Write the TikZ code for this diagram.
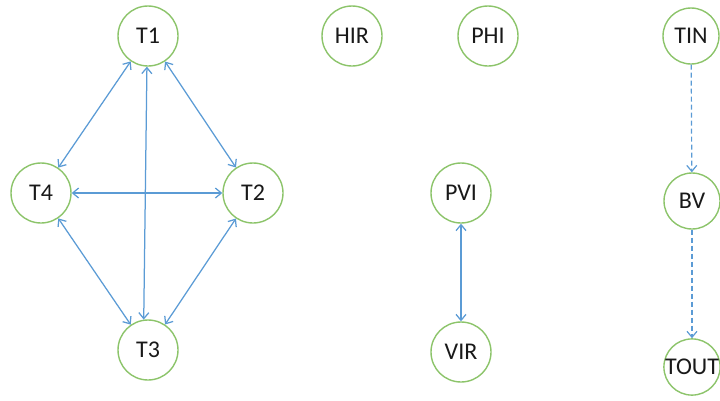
\documentclass[tikz,border=0pt]{standalone}
\usepackage{fontspec}
\setmainfont{Carlito}
\usetikzlibrary{arrows.meta}
\definecolor{ringgreen}{RGB}{140,196,106}
\definecolor{linkblue}{RGB}{91,155,213}
\tikzset{
  state/.style={circle, draw=ringgreen, line width=1.4pt, fill=white,
    minimum size=60pt, inner sep=0pt, font=\fontsize{24}{26}\selectfont, text=black!90},
  tip/.style={Straight Barb[length=6pt,width=10pt]},
  link/.style={draw=linkblue, line width=1.25pt, {Straight Barb[length=6pt,width=10pt]}-{Straight Barb[length=6pt,width=10pt]}},
  flow/.style={draw=linkblue, line width=1.2pt, dashed, dash pattern=on 5pt off 3pt,
    -{Straight Barb[length=6pt,width=10pt]}}
}
\begin{document}
\begin{tikzpicture}[x=1pt,y=-1pt]
\useasboundingbox (0,0) rectangle (720,400);
% cluster of four mutually linked states
\node[state] (T1) at (148,36) {T1};
\node[state] (T4) at (41,193) {T4};
\node[state] (T2) at (253,193) {T2};
\node[state] (T3) at (148,350) {T3};
% isolated states
\node[state] (HIR) at (352,36) {HIR};
\node[state] (PHI) at (488,36) {PHI};
% pair
\node[state] (PVI) at (461,193) {PVI};
\node[state] (VIR) at (461,352) {VIR};
% chain
\node[state, minimum size=56pt] (TIN) at (691,36) {TIN};
\node[state, minimum size=56pt] (BV) at (692,201) {BV};
\node[state, minimum size=56pt] (TOUT) at (692,367) {TOUT};

\draw[link] (T1) -- (T4);
\draw[link] (T1) -- (T2);
\draw[link] (T1.268) -- (T3.98);
\draw[link] (T4) -- (T2);
\draw[link] (T4) -- (T3);
\draw[link] (T2) -- (T3);
\draw[link] (PVI) -- (VIR);
\draw[flow] (TIN) -- (BV);
\draw[flow] (BV) -- (TOUT);
\end{tikzpicture}
\end{document}
